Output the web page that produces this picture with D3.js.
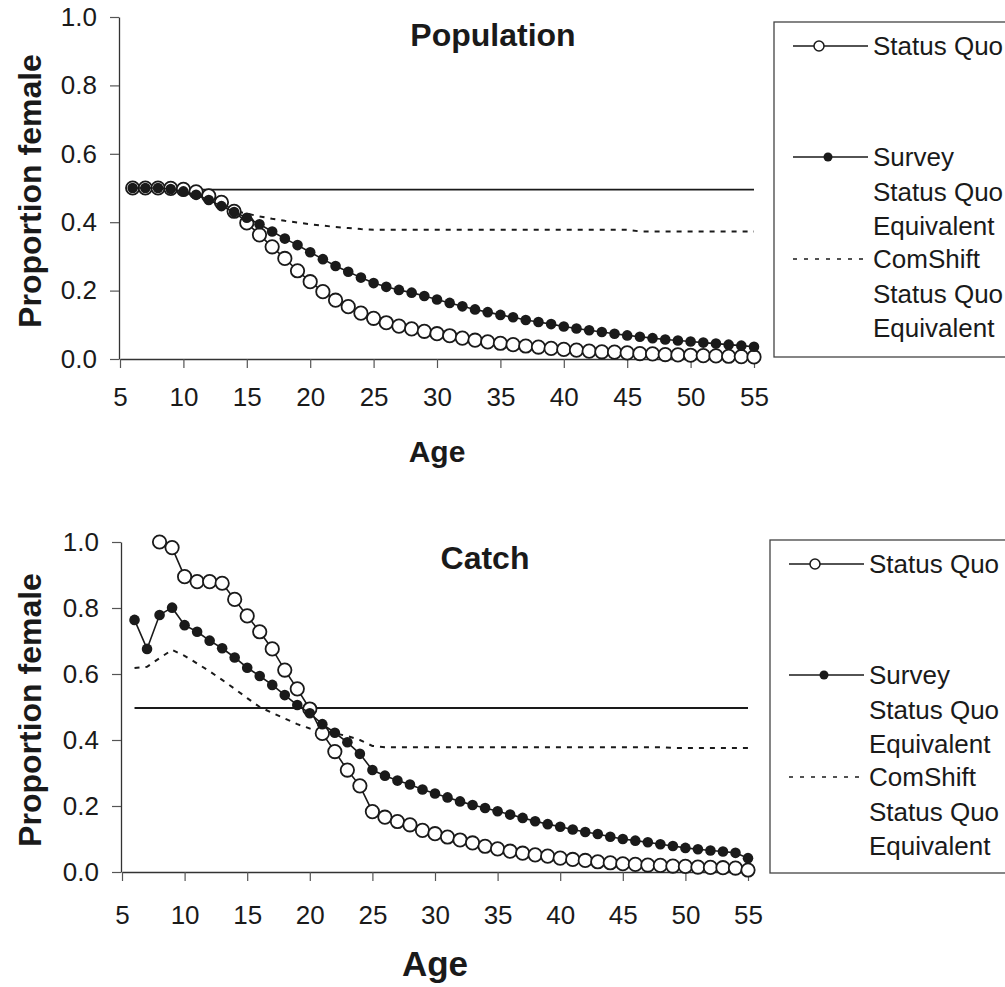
<!DOCTYPE html>
<html>
<head>
<meta charset="utf-8">
<script src="https://cdn.jsdelivr.net/npm/d3@7"></script>
<style>
  html, body { margin: 0; padding: 0; background: #fff; }
  svg { display: block; font-family: "Liberation Sans", Arial, sans-serif; }
</style>
</head>
<body>
<svg id="chart" width="1005" height="987"></svg>
<script>
// ---- Data: proportion female by age ----
const ageTicks = [5, 10, 15, 20, 25, 30, 35, 40, 45, 50, 55];
const propTicks = [0, 0.2, 0.4, 0.6, 0.8, 1.0];

const popAges = [6,7,8,9,10,11,12,13,14,15,16,17,18,19,20,21,22,23,24,25,
  26,27,28,29,30,31,32,33,34,35,36,37,38,39,40,41,42,43,44,45,
  46,47,48,49,50,51,52,53,54,55];

const popStatusQuo = [
  0.500,0.500,0.500,0.499,0.496,0.489,0.477,0.458,0.432,0.398,
  0.363,0.328,0.294,0.258,0.226,0.197,0.172,0.153,0.134,0.119,
  0.106,0.096,0.088,0.081,0.074,0.068,0.061,0.055,0.050,0.046,
  0.042,0.038,0.035,0.031,0.028,0.026,0.023,0.021,0.020,0.018,
  0.016,0.015,0.013,0.012,0.011,0.010,0.009,0.008,0.007,0.006];

const popSurvey = [
  0.500,0.500,0.500,0.497,0.490,0.480,0.465,0.447,0.430,0.413,
  0.394,0.373,0.352,0.333,0.312,0.292,0.272,0.255,0.238,0.222,
  0.211,0.202,0.194,0.184,0.174,0.164,0.154,0.145,0.137,0.129,
  0.122,0.114,0.108,0.102,0.095,0.089,0.084,0.079,0.074,0.069,
  0.065,0.061,0.057,0.054,0.051,0.048,0.045,0.042,0.039,0.036];

const popComShift = [
  0.500,0.500,0.500,0.498,0.493,0.485,0.472,0.455,0.433,0.425,
  0.417,0.410,0.404,0.399,0.394,0.390,0.386,0.383,0.380,0.378,
  0.378,0.378,0.378,0.378,0.378,0.378,0.378,0.378,0.378,0.378,
  0.378,0.378,0.378,0.378,0.378,0.378,0.378,0.378,0.378,0.378,
  0.373,0.373,0.373,0.373,0.373,0.373,0.373,0.373,0.373,0.373];

const popEvenAges = [6, 55];
const popEven = [0.495, 0.495];

const catchAges = [6,7,8,9,10,11,12,13,14,15,16,17,18,19,20,21,22,23,24,25,
  26,27,28,29,30,31,32,33,34,35,36,37,38,39,40,41,42,43,44,45,
  46,47,48,49,50,51,52,53,54,55];

const catchStatusQuoAges = [8,9,10,11,12,13,14,15,16,17,18,19,20,21,22,23,24,25,
  26,27,28,29,30,31,32,33,34,35,36,37,38,39,40,41,42,43,44,45,
  46,47,48,49,50,51,52,53,54,55];

const catchStatusQuo = [
  1.000,0.983,0.895,0.880,0.880,0.875,0.826,0.776,
  0.728,0.676,0.612,0.555,0.494,0.420,0.365,0.309,0.261,0.183,
  0.166,0.153,0.143,0.126,0.116,0.106,0.097,0.088,0.078,0.070,
  0.063,0.057,0.052,0.048,0.042,0.038,0.035,0.031,0.028,0.025,
  0.023,0.021,0.020,0.018,0.017,0.015,0.014,0.013,0.012,0.006];

const catchSurvey = [
  0.764,0.676,0.779,0.801,0.748,0.728,0.701,0.678,0.650,0.619,
  0.594,0.567,0.536,0.506,0.481,0.448,0.422,0.393,0.358,0.309,
  0.292,0.277,0.265,0.250,0.238,0.226,0.214,0.203,0.194,0.184,
  0.174,0.164,0.154,0.145,0.137,0.129,0.121,0.115,0.107,0.100,
  0.095,0.090,0.084,0.079,0.073,0.069,0.065,0.062,0.058,0.042];

const catchComShift = [
  0.618,0.622,0.648,0.673,0.655,0.632,0.608,0.582,0.555,0.527,
  0.500,0.482,0.465,0.448,0.435,0.428,0.420,0.412,0.400,0.382,
  0.378,0.378,0.378,0.378,0.378,0.378,0.378,0.378,0.378,0.378,
  0.378,0.378,0.378,0.378,0.378,0.378,0.378,0.378,0.378,0.378,
  0.378,0.378,0.378,0.376,0.376,0.376,0.376,0.376,0.376,0.376];

const catchEvenAges = [6, 55];
const catchEven = [0.497, 0.497];

const legendLabels = [["Status Quo"], ["Survey", "Status Quo", "Equivalent"], ["ComShift", "Status Quo", "Equivalent"]];

// ---- Panel layout ----
const panels = [
  {
    title: "Population", titleX: 493, titleY: 46,
    left: 120, right: 754, top: 17, bottom: 359,
    xPad: 20, ageY: 462, ageSize: 30, yTitleX: 41,
    legend: { x: 774, y: 22, h: 335 },
    statusQuo: { ages: popAges, vals: popStatusQuo },
    survey: { ages: popAges, vals: popSurvey },
    comShift: { ages: popAges, vals: popComShift },
    even: { ages: popEvenAges, vals: popEven }
  },
  {
    title: "Catch", titleX: 485, titleY: 569,
    left: 122, right: 748, top: 542, bottom: 872,
    xPad: 25, ageY: 976, ageSize: 35, yTitleX: 41,
    legend: { x: 770, y: 540, h: 333 },
    statusQuo: { ages: catchStatusQuoAges, vals: catchStatusQuo },
    survey: { ages: catchAges, vals: catchSurvey },
    comShift: { ages: catchAges, vals: catchComShift },
    even: { ages: catchEvenAges, vals: catchEven }
  }
];

const svg = d3.select("#chart");
const ink = "#1a1a1a";

function pairs(s) { return s.ages.map((a, i) => [a, s.vals[i]]); }

panels.forEach(p => {
  const x = d3.scaleLinear().domain([5, 55]).range([p.left, p.right]);
  const y = d3.scaleLinear().domain([0, 1]).range([p.bottom, p.top]);
  const g = svg.append("g");

  // axes
  const xAxis = g.append("g")
    .attr("transform", `translate(0,${p.bottom})`)
    .call(d3.axisBottom(x).tickValues(ageTicks).tickFormat(d3.format("d"))
      .tickSize(9).tickSizeOuter(0).tickPadding(p.xPad));
  const yAxis = g.append("g")
    .attr("transform", `translate(${p.left - 1},0)`)
    .call(d3.axisLeft(y).tickValues(propTicks).tickFormat(d3.format(".1f"))
      .tickSize(9).tickSizeOuter(0).tickPadding(13));
  [xAxis, yAxis].forEach(a => {
    a.selectAll("path.domain").attr("stroke", "#333").attr("stroke-width", 1.3);
    a.selectAll(".tick line").attr("stroke", "#555").attr("stroke-width", 1.2);
    a.selectAll(".tick text").attr("fill", ink).attr("font-size", 26)
      .attr("font-family", "'Liberation Sans', Arial, sans-serif");
  });

  const line = d3.line().x(d => x(d[0])).y(d => y(d[1]));

  // even-sex reference level
  g.append("path").datum(pairs(p.even)).attr("d", line)
    .attr("fill", "none").attr("stroke", ink).attr("stroke-width", 1.8);

  // ComShift status quo equivalent (dashed)
  g.append("path").datum(pairs(p.comShift)).attr("d", line)
    .attr("fill", "none").attr("stroke", ink).attr("stroke-width", 2)
    .attr("stroke-dasharray", "5,6");

  // Status quo (open circles)
  const sq = pairs(p.statusQuo);
  g.append("path").datum(sq).attr("d", line)
    .attr("fill", "none").attr("stroke", ink).attr("stroke-width", 1.6);
  g.selectAll("circle.sq").data(sq).join("circle").attr("class", "sq")
    .attr("cx", d => x(d[0])).attr("cy", d => y(d[1])).attr("r", 6.7)
    .attr("fill", "#fff").attr("stroke", ink).attr("stroke-width", 1.8);

  // Survey status quo equivalent (filled dots)
  const sv = pairs(p.survey);
  g.append("path").datum(sv).attr("d", line)
    .attr("fill", "none").attr("stroke", ink).attr("stroke-width", 1.6);
  g.selectAll("circle.sv").data(sv).join("circle").attr("class", "sv")
    .attr("cx", d => x(d[0])).attr("cy", d => y(d[1])).attr("r", 5.3)
    .attr("fill", ink);

  // titles
  g.append("text").attr("x", p.titleX).attr("y", p.titleY)
    .attr("text-anchor", "middle").attr("font-size", 32).attr("font-weight", "bold")
    .attr("fill", ink).text(p.title);
  g.append("text").attr("x", (p.left + p.right) / 2).attr("y", p.ageY)
    .attr("text-anchor", "middle").attr("font-size", p.ageSize).attr("font-weight", "bold")
    .attr("fill", ink).text("Age");
  g.append("text")
    .attr("transform", `translate(${p.yTitleX},${(p.top + p.bottom) / 2 + 3}) rotate(-90)`)
    .attr("text-anchor", "middle").attr("font-size", 32).attr("font-weight", "bold")
    .attr("fill", ink).text("Proportion female");

  // legend
  const L = p.legend;
  const lg = g.append("g").attr("transform", `translate(${L.x},${L.y})`);
  lg.append("rect").attr("x", 0).attr("y", 0).attr("width", 260).attr("height", L.h)
    .attr("fill", "#fff").attr("stroke", "#444").attr("stroke-width", 1.3);
  const rowY = [24, 135, 237];
  const lineGap = 34.5;
  rowY.forEach((ry, i) => {
    const sample = lg.append("line").attr("x1", 19).attr("x2", 94).attr("y1", ry).attr("y2", ry)
      .attr("stroke", ink);
    if (i === 2) sample.attr("stroke-width", 1.6).attr("stroke-dasharray", "4,7");
    else sample.attr("stroke-width", 1.5);
    if (i === 0) lg.append("circle").attr("cx", 45).attr("cy", ry).attr("r", 5)
      .attr("fill", "#fff").attr("stroke", ink).attr("stroke-width", 1.5);
    if (i === 1) lg.append("circle").attr("cx", 54).attr("cy", ry).attr("r", 4.5)
      .attr("fill", ink);
    legendLabels[i].forEach((t, k) => {
      lg.append("text").attr("x", 99).attr("y", ry + k * lineGap).attr("dy", "0.36em")
        .attr("font-size", 26).attr("fill", ink).text(t);
    });
  });
});
</script>
</body>
</html>
